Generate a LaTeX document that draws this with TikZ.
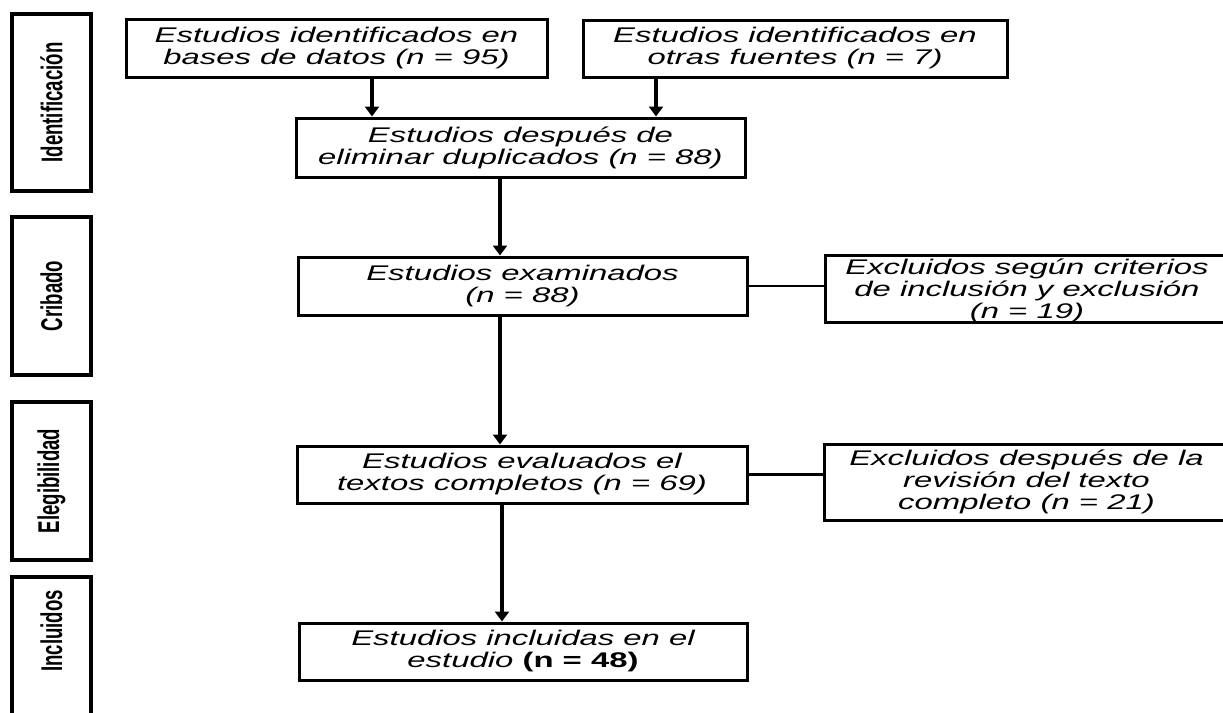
\documentclass[tikz,border=0pt]{standalone}
\usepackage{fontspec}
\setmainfont{Liberation Sans}
\newfontfamily\cajafont{Liberation Sans}[FakeStretch=1.55]
\newfontfamily\fasefont{Liberation Sans}[FakeStretch=0.62]
\usetikzlibrary{arrows.meta}

\tikzset{
  caja/.style={draw, line width=1.5pt, inner xsep=2pt, inner ysep=0pt, align=center,
    font=\cajafont\itshape\fontsize{10.6}{11}\selectfont},
  fase/.style={draw, line width=2pt, rotate=90, minimum height=39.5pt,
    font=\fasefont\bfseries\fontsize{15}{15}\selectfont},
  flecha/.style={line width=1.6pt, -{Triangle[width=7pt,length=5pt]}},
  linea/.style={line width=1.2pt}
}

\begin{document}
\begin{tikzpicture}[x=0.5pt, y=-0.5pt]
    \useasboundingbox (0,0) rectangle (1223,713);
    \clip (0,0) rectangle (1223,713);

    % Fases
    \node[fase, minimum width=88.5pt] (ident) at (51.5,102.5) {Identificación};
    \node[fase, minimum width=79pt] (crib) at (51.5,296) {Cribado};
    \node[fase, minimum width=79pt] (eleg) at (51.5,481) {Elegibilidad};
    \draw[line width=2pt] (12,577) rectangle (91,770);
    \node[fase, draw=none] (incl) at (51.5,631) {Incluidos};

    % Cajas
    \node[caja, minimum width=210.5pt, minimum height=29pt] (bases) at (336.5,48)
      {Estudios identificados en\\bases de datos (n = 95)};
    \node[caja, minimum width=212pt, minimum height=28.5pt] (otras) at (795,48.5)
      {Estudios identificados en\\otras fuentes (n = 7)};
    \node[caja, minimum width=224.5pt, minimum height=29.5pt] (dupl) at (520.5,147.5)
      {Estudios después de\\eliminar duplicados (n = 88)};
    \node[caja, minimum width=224.5pt, minimum height=29pt] (exam) at (522.5,286)
      {Estudios examinados\\(n = 88)};
    \node[caja, minimum width=202pt, minimum height=32pt] (excl1) at (1027,289)
      {\rule{0pt}{9.5pt}Excluidos según criterios\\de inclusión y exclusión\\(n = 19)};
    \node[caja, minimum width=225pt, minimum height=28.5pt] (eval) at (522,474.5)
      {Estudios evaluados el\\textos completos (n = 69)};
    \node[caja, minimum width=202.5pt, minimum height=38pt] (excl2) at (1026.5,482)
      {Excluidos después de la\\revisión del texto\\completo (n = 21)};
    \node[caja, minimum width=224pt, minimum height=28.5pt] (incl2) at (523,651.5)
      {Estudios incluidas en el\\estudio {\bfseries\upshape(n = 48)}};

    % Flechas
    \coordinate (xa) at (372,0);
    \coordinate (xb) at (656,0);
    \coordinate (xc) at (500,0);
    \coordinate (xd) at (502,0);
    \draw[flecha] (bases.south -| xa) -- (dupl.north -| xa);
    \draw[flecha] (otras.south -| xb) -- (dupl.north -| xb);
    \draw[flecha] (dupl.south -| xc) -- (exam.north -| xc);
    \draw[flecha] (exam.south -| xc) -- (eval.north -| xc);
    \draw[flecha] (eval.south -| xd) -- (incl2.north -| xd);
    \draw[linea] (exam.east) -- (exam.east -| excl1.west);
    \draw[linea] (eval.east) -- (eval.east -| excl2.west);

\end{tikzpicture}
\end{document}
